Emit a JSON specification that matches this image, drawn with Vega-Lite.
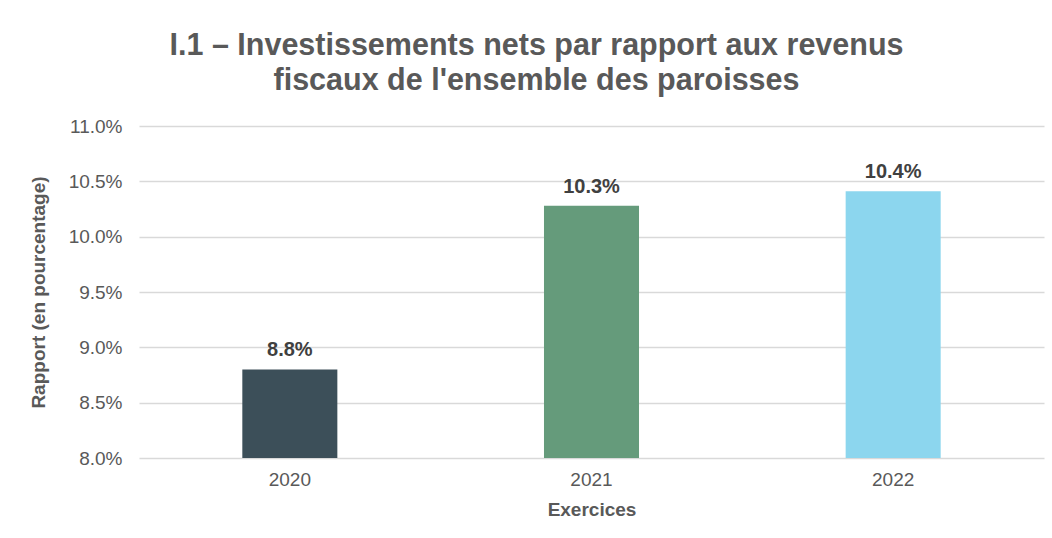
{
  "$schema": "https://vega.github.io/schema/vega-lite/v6.json",
  "autosize": {"type": "none"},
  "width": 905,
  "height": 332,
  "padding": {"left": 139, "top": 126, "right": 8, "bottom": 80},
  "background": "white",
  "title": {
    "text": ["I.1 – Investissements nets par rapport aux revenus", "fiscaux de l'ensemble des paroisses"],
    "font": "Liberation Sans",
    "fontSize": 30.5,
    "fontWeight": "bold",
    "color": "#595959",
    "anchor": "middle",
    "dx": -55,
    "offset": 21,
    "lineHeight": 35
  },
  "data": {
    "values": [
      {"year": "2020", "value": 0.0880, "label": "8.8%"},
      {"year": "2021", "value": 0.1028, "label": "10.3%"},
      {"year": "2022", "value": 0.1041, "label": "10.4%"}
    ]
  },
  "encoding": {
    "x": {
      "field": "year",
      "type": "nominal",
      "title": "Exercices",
      "scale": {"paddingInner": 0.685, "paddingOuter": 0.3425},
      "axis": {
        "labelAngle": 0,
        "labelFont": "Liberation Sans",
        "labelFontSize": 19,
        "labelColor": "#595959",
        "labelPadding": 12,
        "titleFont": "Liberation Sans",
        "titleFontSize": 19,
        "titleFontWeight": "bold",
        "titleColor": "#595959",
        "titlePadding": 11,
        "domain": false,
        "ticks": false
      }
    }
  },
  "layer": [
    {
      "mark": {"type": "bar", "clip": true},
      "encoding": {
        "y": {
          "field": "value",
          "type": "quantitative",
          "title": "Rapport (en pourcentage)",
          "scale": {"domain": [0.08, 0.11], "nice": false, "zero": false},
          "axis": {
            "values": [0.08, 0.085, 0.09, 0.095, 0.10, 0.105, 0.11],
            "format": ".1%",
            "labelFont": "Liberation Sans",
            "labelFontSize": 19,
            "labelColor": "#595959",
            "labelPadding": 17,
            "titleFont": "Liberation Sans",
            "titleFontSize": 19,
            "titleFontWeight": "bold",
            "titleColor": "#595959",
            "titlePadding": 20,
            "domain": false,
            "ticks": false,
            "gridColor": "#d9d9d9",
            "gridWidth": 1.3
          }
        },
        "color": {
          "field": "year",
          "type": "nominal",
          "scale": {"domain": ["2020", "2021", "2022"], "range": ["#3C4F59", "#659B7B", "#8CD6EE"]},
          "legend": null
        }
      }
    },
    {
      "mark": {"type": "text", "font": "Liberation Sans", "fontSize": 20, "fontWeight": "bold", "color": "#404040", "baseline": "bottom", "dy": -9},
      "encoding": {
        "y": {"field": "value", "type": "quantitative"},
        "text": {"field": "label"}
      }
    }
  ],
  "config": {"view": {"stroke": null}}
}
